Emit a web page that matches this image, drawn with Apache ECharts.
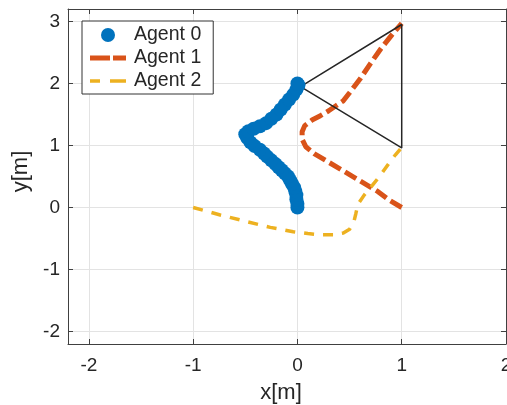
<!DOCTYPE html>
<html><head><meta charset="utf-8">
<script src="https://cdn.jsdelivr.net/npm/echarts@6/dist/echarts.min.js"></script>
<style>html,body{margin:0;padding:0;background:#fff}#c{width:507px;height:405px}</style>
</head><body><div id="c"></div>
<script>
const seriesNames = ['Agent 0', 'Agent 1', 'Agent 2'];
const xTicks = [-2, -1, 0, 1, 2];
const yTicks = [-2, -1, 0, 1, 2, 3];
const agent0 = [[0.0,0.0],[0.0,0.06],[-0.01,0.13],[-0.01,0.2],[-0.02,0.26],[-0.03,0.32],[-0.05,0.38],[-0.07,0.44],[-0.09,0.5],[-0.12,0.55],[-0.15,0.6],[-0.18,0.65],[-0.21,0.7],[-0.25,0.76],[-0.29,0.82],[-0.32,0.87],[-0.36,0.93],[-0.41,0.99],[-0.45,1.05],[-0.48,1.12],[-0.5,1.18],[-0.47,1.23],[-0.42,1.27],[-0.36,1.31],[-0.3,1.36],[-0.25,1.43],[-0.2,1.5],[-0.16,1.58],[-0.12,1.66],[-0.08,1.74],[-0.04,1.82],[-0.01,1.9],[0.01,1.97],[0.0,2.0]];
const agent1 = [[1.0,0.0],[0.88,0.12],[0.77,0.26],[0.6,0.43],[0.44,0.59],[0.3,0.73],[0.16,0.87],[0.08,0.98],[0.045,1.1],[0.045,1.22],[0.07,1.32],[0.14,1.41],[0.22,1.48],[0.3,1.56],[0.37,1.64],[0.44,1.72],[0.5,1.85],[0.6,2.07],[0.7,2.32],[0.8,2.56],[0.9,2.77],[1.0,2.97]];
const agent2 = [[-1,0],[-0.74,-0.12],[-0.48,-0.23],[-0.26,-0.32],[-0.04,-0.39],[0.1,-0.42],[0.22,-0.44],[0.35,-0.44],[0.44,-0.41],[0.5,-0.35],[0.54,-0.24],[0.56,-0.1],[0.58,0.05],[0.64,0.2],[0.72,0.36],[0.8,0.53],[0.88,0.72],[0.94,0.85],[1.0,0.97]];
const formation = [[0.03,1.95],[1.0,2.95],[1.0,0.96],[0.03,1.95]];

const textColor = '#262626';
const axisColor = '#404040';
const FONT = 'Liberation Sans';
function fmt(list){ return v => list.some(t => Math.abs(t - v) < 1e-9) ? String(v) : ''; }
function mainAxis(extra){
  return Object.assign({
    type: 'value',
    axisLine: {show: true, onZero: false, lineStyle: {color: axisColor, width: 1}},
    axisTick: {show: true, inside: true, length: 5, lineStyle: {color: axisColor}},
    splitLine: {show: true, lineStyle: {color: '#e3e3e3', width: 1}}
  }, extra);
}
function sideAxis(extra){
  return Object.assign({
    type: 'value',
    axisLine: {show: true, onZero: false, lineStyle: {color: axisColor, width: 1}},
    axisTick: {show: true, inside: true, length: 5, lineStyle: {color: axisColor}},
    axisLabel: {show: false},
    splitLine: {show: false}
  }, extra);
}
// legend icons (36 x 14 box): dashed bars
const icon1 = 'path://M0,0L0,0 M0,14L0,14 M0,4.5L20,4.5L20,9.5L0,9.5Z M23,4.5L36,4.5L36,9.5L23,9.5Z';
const icon2 = 'path://M0,0L0,0 M0,14L0,14 M0,5.2L10,5.2L10,8.8L0,8.8Z M20,5.2L36,5.2L36,8.8L20,8.8Z';
const chart = echarts.init(document.getElementById('c'), null, {renderer: 'canvas'});
chart.setOption({
  animation: false,
  backgroundColor: '#fff',
  grid: {left: 68, right: 1, top: 9, bottom: 61, containLabel: false, outerBoundsMode: 'none'},
  xAxis: [
    mainAxis({min: -2.2, max: 2.0, position: 'bottom', name: 'x[m]', nameLocation: 'middle', nameGap: 38,
      nameTextStyle: {fontSize: 22, color: textColor, fontFamily: FONT, padding: [0, 12, 0, 0]},
      axisLabel: {show: true, margin: 12, fontSize: 19, color: textColor, fontFamily: FONT, formatter: fmt(xTicks), showMinLabel: true, showMaxLabel: true}}),
    sideAxis({min: -2.2, max: 2.0, position: 'top'})
  ],
  yAxis: [
    mainAxis({min: -2.2, max: 3.2, position: 'left', name: 'y[m]', nameLocation: 'middle', nameGap: 33, nameRotate: 90,
      nameTextStyle: {fontSize: 22, color: textColor, fontFamily: FONT, padding: [0, 0, 0, 10]},
      axisLabel: {show: true, margin: 8, fontSize: 19, color: textColor, fontFamily: FONT, formatter: fmt(yTicks)}}),
    sideAxis({min: -2.2, max: 3.2, position: 'right'})
  ],
  legend: {
    data: [
      {name: seriesNames[0], icon: 'circle'},
      {name: seriesNames[1], icon: icon1},
      {name: seriesNames[2], icon: icon2}
    ],
    orient: 'vertical', left: 82, top: 21,
    padding: [4, 12, 3, 8], itemGap: 3, itemWidth: 36, itemHeight: 14, itemSymbolKeepAspect: false,
    backgroundColor: '#fff', borderColor: '#333', borderWidth: 1, borderRadius: 0,
    textStyle: {fontSize: 19.5, color: textColor, fontFamily: FONT, padding: [0, 0, 0, 3]},
    selectedMode: false
  },
  series: [
    {name: seriesNames[1], type: 'line', data: agent1, symbol: 'none', z: 2,
      lineStyle: {color: '#D95319', width: 5, type: [13, 5]}, itemStyle: {color: '#D95319'}},
    {name: seriesNames[2], type: 'line', data: agent2, symbol: 'none', z: 2,
      lineStyle: {color: '#EDB120', width: 3.5, type: [10, 9]}, itemStyle: {color: '#EDB120'}},
    {name: 'formation', type: 'line', data: formation, symbol: 'none', z: 3,
      lineStyle: {color: '#262626', width: 1.5}, itemStyle: {color: '#262626'}},
    {name: seriesNames[0], type: 'scatter', data: agent0, symbol: 'circle', symbolSize: 14, z: 4,
      itemStyle: {color: '#0072BD', opacity: 1}}
  ]
});
</script></body></html>
